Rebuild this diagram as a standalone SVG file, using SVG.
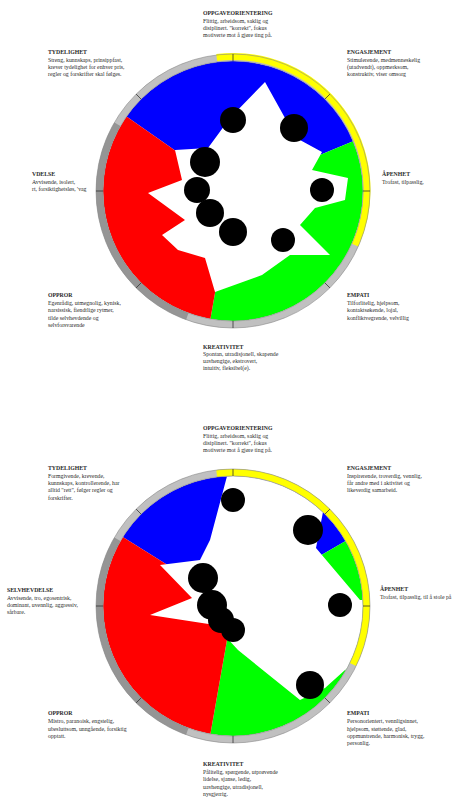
<svg xmlns="http://www.w3.org/2000/svg" width="457" height="798" viewBox="0 0 457 798">
<style>
.t{font-family:"Liberation Serif","Times New Roman",serif;font-size:5.8px;fill:#2a2a2a}
.h{font-weight:bold}
.dot{fill:#000}
.tick{stroke:#333;stroke-width:0.8}
.ringg{fill:none;stroke:#c0c0c0;stroke-width:7}
.ringd{fill:none;stroke:#959595;stroke-width:7}
.ringy{fill:none;stroke:#ffff00;stroke-width:7}
.edge{fill:none;stroke:#888;stroke-width:0.6}
</style>
<defs>
<clipPath id="c1"><circle cx="233" cy="191" r="130"/></clipPath>
<clipPath id="c2"><circle cx="233" cy="606" r="130"/></clipPath>
</defs>
<rect width="457" height="798" fill="#fff"/>

<g id="chart1">
<g clip-path="url(#c1)">
<path d="M233,191 L126.5,116.4 A130,130 0 0 1 353.1,141.3 Z" fill="#0000ff"/>
<path d="M233,191 L353.1,141.3 A130,130 0 0 1 210.4,319 Z" fill="#00ff00"/>
<path d="M233,191 L210.4,319 A130,130 0 0 1 126.5,116.4 Z" fill="#ff0000"/>
<polygon fill="#fff" points="265,82 285,118 300,140 322,152 312,170 348,178 345,200 315,208 300,225 330,255 290,255 262,275 215,292 205,258 178,250 162,235 185,220 148,193 182,180 175,150 208,148 230,118"/>
</g>
<circle class="ringg" cx="233" cy="191" r="133.5"/>
<path class="ringd" d="M187.3,316.4 A133.5,133.5 0 0 1 117.4,124.3"/>
<path class="ringy" d="M216.7,57.5 A133.5,133.5 0 0 1 355.1,245.1"/>
<circle class="edge" cx="233" cy="191" r="137"/>
<circle class="edge" cx="233" cy="191" r="130"/>
<g class="tick">
<line x1="233" y1="54" x2="233" y2="61"/>
<line x1="329.9" y1="94.1" x2="324.9" y2="99.1"/>
<line x1="370" y1="191" x2="363" y2="191"/>
<line x1="329.9" y1="287.9" x2="324.9" y2="282.9"/>
<line x1="233" y1="328" x2="233" y2="321"/>
<line x1="136.1" y1="287.9" x2="141.1" y2="282.9"/>
<line x1="96" y1="191" x2="103" y2="191"/>
<line x1="136.1" y1="94.1" x2="141.1" y2="99.1"/>
</g>
<g class="dot">
<circle cx="233" cy="120" r="13"/>
<circle cx="294" cy="128" r="14"/>
<circle cx="205" cy="162" r="15"/>
<circle cx="197" cy="190" r="13"/>
<circle cx="210" cy="213" r="14"/>
<circle cx="233" cy="232" r="14"/>
<circle cx="283" cy="240" r="12"/>
<circle cx="322" cy="190" r="12"/>
</g>
</g>

<g id="labels1">
<g id="l1-oppgave"><text class="t h" x="203" y="15">OPPGAVEORIENTERING</text><text class="t" x="203" y="23">Flittig, arbeidsom, saklig og</text><text class="t" x="203" y="30">disiplinert. "korrekt", fokus</text><text class="t" x="203" y="37">motiverte mot å gjøre ting på.</text></g>
<g id="l1-tydelighet"><text class="t h" x="48" y="54">TYDELIGHET</text><text class="t" x="48" y="62">Streng, kunnskaps, prinsippfast,</text><text class="t" x="48" y="69">krever tydelighet for enhver pris,</text><text class="t" x="48" y="76">regler og forskrifter skal følges.</text></g>
<g id="l1-engasjement"><text class="t h" x="347" y="54">ENGASJEMENT</text><text class="t" x="347" y="62">Stimulerende, medmenneskelig</text><text class="t" x="347" y="69">(utadvendt), oppmerksom,</text><text class="t" x="347" y="76">konstruktiv, viser omsorg</text></g>
<g id="l1-apenhet"><text class="t h" x="382" y="176">ÅPENHET</text><text class="t" x="382" y="184">Trofast, tilpasslig,</text></g>
<g id="l1-selv"><text class="t h" x="32" y="176">VDELSE</text><text class="t" x="32" y="184">Avvisende, isolert,</text><text class="t" x="32" y="191">rt, forsiktighetsløs, 'vag</text></g>
<g id="l1-oppror"><text class="t h" x="48" y="297">OPPROR</text><text class="t" x="48" y="305">Egenrådig, utmegnolig, kynisk,</text><text class="t" x="48" y="312">narsissisk, fiendtlige rytmer,</text><text class="t" x="48" y="320">tilde selvhevdende og</text><text class="t" x="48" y="327">selvforsvarende</text></g>
<g id="l1-empati"><text class="t h" x="347" y="297">EMPATI</text><text class="t" x="347" y="305">Tilforlitelig, hjelpsom,</text><text class="t" x="347" y="312">kontaktsøkende, lojal,</text><text class="t" x="347" y="320">konfliktvegrende, velvillig</text></g>
<g id="l1-kreativitet"><text class="t h" x="203" y="349">KREATIVITET</text><text class="t" x="203" y="356">Spontan, utradisjonell, skapende</text><text class="t" x="203" y="363">uavhengige, ekstrovert,</text><text class="t" x="203" y="370">intuitiv, fleksibel(e).</text></g>
</g>

<g id="chart2">
<g clip-path="url(#c2)">
<path d="M233,606 L122.8,537.1 A130,130 0 0 1 345.6,541 Z" fill="#0000ff"/>
<path d="M233,606 L345.6,541 A130,130 0 0 1 210.4,734 Z" fill="#00ff00"/>
<path d="M233,606 L210.4,734 A130,130 0 0 1 122.8,537.1 Z" fill="#ff0000"/>
<polygon fill="#fff" points="230,465 330,490 323,512 316,548 360,600 375,600 372,660 345,670 325,688 300,700 238,650 215,625 150,615 192,598 160,565 200,560 210,540"/>
</g>
<circle class="ringg" cx="233" cy="606" r="133.5"/>
<path class="ringd" d="M187.3,731.4 A133.5,133.5 0 0 1 117.4,539.3"/>
<path class="ringy" d="M216.7,473.5 A133.5,133.5 0 0 1 353,664.5"/>
<circle class="edge" cx="233" cy="606" r="137"/>
<circle class="edge" cx="233" cy="606" r="130"/>
<g class="tick">
<line x1="233" y1="469" x2="233" y2="476"/>
<line x1="329.9" y1="509.1" x2="324.9" y2="514.1"/>
<line x1="370" y1="606" x2="363" y2="606"/>
<line x1="329.9" y1="702.9" x2="324.9" y2="697.9"/>
<line x1="233" y1="743" x2="233" y2="736"/>
<line x1="136.1" y1="702.9" x2="141.1" y2="697.9"/>
<line x1="96" y1="606" x2="103" y2="606"/>
<line x1="136.1" y1="509.1" x2="141.1" y2="514.1"/>
</g>
<g class="dot">
<circle cx="233" cy="500" r="12"/>
<circle cx="308" cy="530" r="15"/>
<circle cx="340" cy="605" r="12"/>
<circle cx="203" cy="578" r="15"/>
<circle cx="212" cy="605" r="15"/>
<circle cx="221" cy="620" r="13"/>
<circle cx="233" cy="630" r="12"/>
<circle cx="310" cy="685" r="14"/>
</g>
</g>

<g id="labels2">
<g id="l2-oppgave"><text class="t h" x="203" y="430">OPPGAVEORIENTERING</text><text class="t" x="203" y="438">Flittig, arbeidsom, saklig og</text><text class="t" x="203" y="445">disiplinert. "korrekt", fokus</text><text class="t" x="203" y="452">motiverte mot å gjøre ting på.</text></g>
<g id="l2-tydelighet"><text class="t h" x="48" y="470">TYDELIGHET</text><text class="t" x="48" y="478">Formgivende, krevende,</text><text class="t" x="48" y="485">kunnskaps, kontrollerende, har</text><text class="t" x="48" y="492">alltid "rett", følger regler og</text><text class="t" x="48" y="500">forskrifter.</text></g>
<g id="l2-engasjement"><text class="t h" x="347" y="470">ENGASJEMENT</text><text class="t" x="347" y="478">Inspirerende, troverdig, vennlig,</text><text class="t" x="347" y="485">får andre med i aktivitet og</text><text class="t" x="347" y="492">likeverdig samarbeid.</text></g>
<g id="l2-apenhet"><text class="t h" x="380" y="591">ÅPENHET</text><text class="t" x="380" y="599">Trofast, tilpasslig, til å stole på</text></g>
<g id="l2-selv"><text class="t h" x="7" y="592">SELVHEVDELSE</text><text class="t" x="7" y="600">Avvisende, tro, egosentrisk,</text><text class="t" x="7" y="607">dominant, uvennlig, aggressiv,</text><text class="t" x="7" y="614">sårbare.</text></g>
<g id="l2-oppror"><text class="t h" x="48" y="715">OPPROR</text><text class="t" x="48" y="723">Mistro, paranoisk, engstelig,</text><text class="t" x="48" y="731">ubesluttsom, unngående, forsiktig</text><text class="t" x="48" y="738">opptatt.</text></g>
<g id="l2-empati"><text class="t h" x="347" y="715">EMPATI</text><text class="t" x="347" y="723">Personorientert, vennligsinnet,</text><text class="t" x="347" y="731">hjelpsom, støttende, glad,</text><text class="t" x="347" y="738">oppmuntrende, harmonisk, trygg,</text><text class="t" x="347" y="745">personlig.</text></g>
<g id="l2-kreativitet"><text class="t h" x="203" y="766">KREATIVITET</text><text class="t" x="203" y="774">Pålitelig, spørgende, utprøvende</text><text class="t" x="203" y="781">lidelse, sjanse, ledig,</text><text class="t" x="203" y="789">uavhengige, utradisjonell,</text><text class="t" x="203" y="796">nysgjerrig.</text></g>
</g>
</svg>
